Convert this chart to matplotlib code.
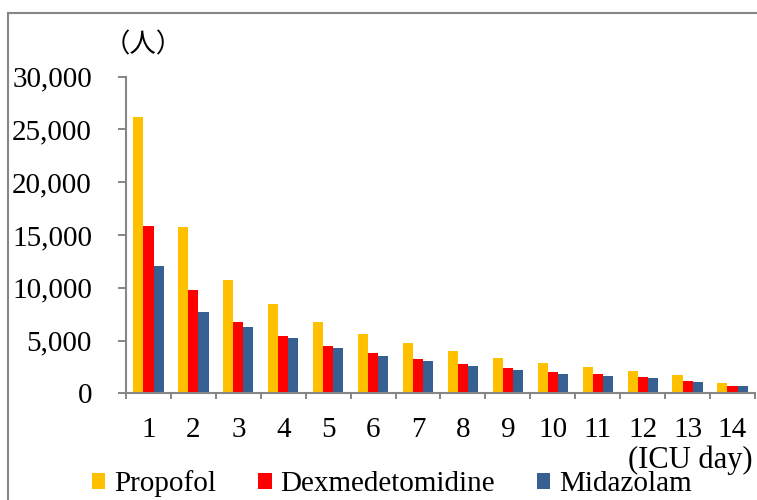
import matplotlib.pyplot as plt
from matplotlib.lines import Line2D
from matplotlib.ticker import FuncFormatter, FixedLocator
import numpy as np

# ICU day and number of patients per sedative
days = list(range(1, 15))
propofol = [26200, 15750, 10750, 8450, 6800, 5650, 4720, 3980, 3350, 2850, 2460, 2110, 1720, 980]
dexmedetomidine = [15850, 9800, 6730, 5430, 4510, 3790, 3210, 2750, 2370, 2020, 1800, 1550, 1200, 660]
midazolam = [12070, 7710, 6310, 5210, 4290, 3540, 3030, 2560, 2180, 1860, 1610, 1420, 1100, 660]

series_names = ["Propofol", "Dexmedetomidine", "Midazolam"]
colors = ["#FFC000", "#FF0000", "#376092"]
axis_gray = "#868686"

serif = ["Liberation Serif", "Noto Sans CJK JP", "DejaVu Serif"]
plt.rcParams["font.family"] = serif
FS = 21

fig = plt.figure(figsize=(7.57, 5.00), dpi=100)
ax = fig.add_axes([126 / 757, 1 - 393.3 / 500, 629 / 757, 316.6 / 500])

x = np.array(days)
w = 0.225
for k, (vals, name, col) in enumerate(zip([propofol, dexmedetomidine, midazolam], series_names, colors)):
    ax.bar(x + (k - 1) * w, vals, width=w, color=col, label=name, linewidth=0)

ax.set_xlim(0.5, 14.5)
ax.set_ylim(0, 30000)
ax.set_yticks(range(0, 30001, 5000))
ax.yaxis.set_major_formatter(FuncFormatter(lambda v, p: f"{int(v):,}"))

ax.set_xticks(days)
ax.set_xticklabels([str(d) for d in days])
ax.xaxis.set_minor_locator(FixedLocator(np.arange(0.5, 14.6, 1.0)))
ax.tick_params(axis="x", which="major", length=0, pad=17, labelsize=FS)
ax.tick_params(axis="x", which="minor", length=4.3, width=1.4, color=axis_gray)
ax.tick_params(axis="y", length=5.8, width=1.4, color=axis_gray, pad=18.7, labelsize=FS)

for side in ["top", "right"]:
    ax.spines[side].set_visible(False)
for side in ["left", "bottom"]:
    ax.spines[side].set_color(axis_gray)
    ax.spines[side].set_linewidth(1.5)

# unit labels
fig.text(104 / 757, 1 - 45 / 500, "（人）", fontsize=19, va="center", ha="left",
         family=["Noto Sans CJK JP"])
fig.text(753 / 757, 1 - 460 / 500, "(ICU day)", fontsize=22, va="center", ha="right",
         family=serif)

# legend at the bottom
fig.legend(loc="center", bbox_to_anchor=(392 / 757, 1 - 484 / 500), ncol=3, frameon=False,
           fontsize=FS, handlelength=0.45, handleheight=0.45, handletextpad=0.3,
           columnspacing=1.45, borderpad=0)

# outer frame of the chart area (top and left edges only visible)
ytop = 1 - 13 / 500
xleft = 8 / 757
fig.lines.append(Line2D([xleft, 1.02], [ytop, ytop], transform=fig.transFigure,
                        color=axis_gray, linewidth=1.5))
fig.lines.append(Line2D([xleft, xleft], [-0.02, ytop], transform=fig.transFigure,
                        color=axis_gray, linewidth=1.5))

fig.savefig("out.png", dpi=100)
